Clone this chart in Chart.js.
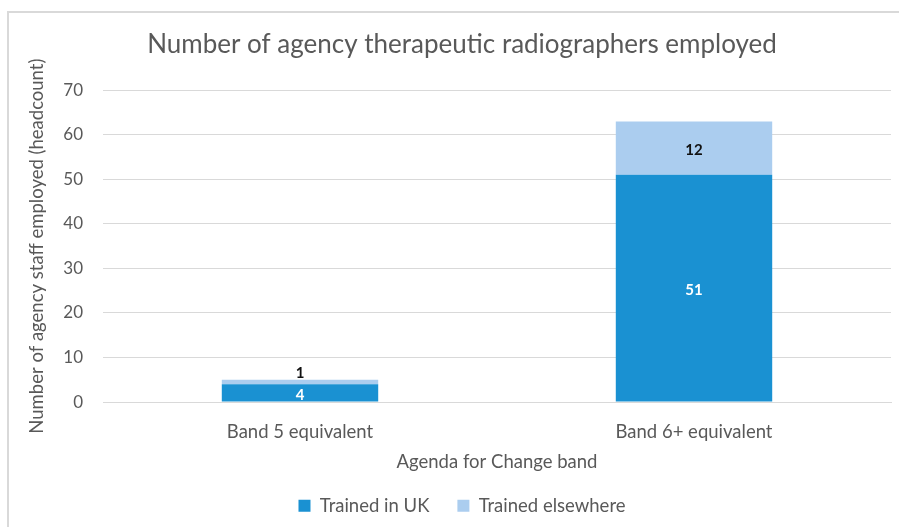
<!DOCTYPE html>
<html>
<head>
<meta charset="utf-8">
<script src="https://cdn.jsdelivr.net/npm/chart.js@4"></script>
<style>
  html, body { margin: 0; padding: 0; background: #ffffff; }
  #wrap { width: 899px; height: 527px; position: relative; }
</style>
</head>
<body>
<div id="wrap"><canvas id="chart" width="899" height="527"></canvas></div>
<script>
// Headcount of agency therapeutic radiographers by Agenda for Change band
const bands = ['Band 5 equivalent', 'Band 6+ equivalent'];
const trainedUK = [4, 51];
const trainedElsewhere = [1, 12];
const seriesNames = ['Trained in UK', 'Trained elsewhere'];
const seriesColors = ['#1a91d2', '#abcdef'];
const valueLabelColors = ['#ffffff', '#111111'];
const yTicks = [0, 10, 20, 30, 40, 50, 60, 70];

const FONT = 'Lato, "Open Sans", sans-serif';
const GREY = '#595959';

// Light frame around the chart (left and top edges)
const framePlugin = {
  id: 'frame',
  beforeDraw(chart) {
    const ctx = chart.ctx;
    ctx.save();
    ctx.fillStyle = '#ffffff';
    ctx.fillRect(0, 0, chart.width, chart.height);
    ctx.strokeStyle = '#d9d9d9';
    ctx.lineWidth = 2;
    ctx.beginPath();
    ctx.moveTo(8, chart.height);
    ctx.lineTo(8, 12);
    ctx.lineTo(chart.width, 12);
    ctx.stroke();
    ctx.restore();
  }
};

// Value labels centred in each stacked segment; thin segments get their label above
const valueLabelPlugin = {
  id: 'valueLabels',
  afterDatasetsDraw(chart) {
    const ctx = chart.ctx;
    ctx.save();
    ctx.font = 'bold 15px ' + FONT;
    ctx.textAlign = 'center';
    chart.data.datasets.forEach((ds, di) => {
      const meta = chart.getDatasetMeta(di);
      meta.data.forEach((bar, i) => {
        const p = bar.getProps(['x', 'y', 'base'], true);
        const h = Math.abs(p.base - p.y);
        ctx.fillStyle = valueLabelColors[di];
        if (h < 14) {
          ctx.textBaseline = 'bottom';
          ctx.fillText(String(ds.data[i]), p.x, Math.min(p.y, p.base) + 1);
        } else {
          ctx.textBaseline = 'middle';
          ctx.fillText(String(ds.data[i]), p.x, (p.y + p.base) / 2 + 2);
        }
      });
    });
    ctx.restore();
  }
};

new Chart(document.getElementById('chart'), {
  type: 'bar',
  data: {
    labels: bands,
    datasets: [
      { label: seriesNames[0], data: trainedUK, backgroundColor: seriesColors[0], borderWidth: 0 },
      { label: seriesNames[1], data: trainedElsewhere, backgroundColor: seriesColors[1], borderWidth: 0 }
    ]
  },
  options: {
    responsive: false,
    animation: false,
    devicePixelRatio: 1,
    categoryPercentage: 1,
    barPercentage: 0.397,
    layout: { padding: { left: 33, right: 8, top: 0, bottom: 2 } },
    plugins: {
      title: {
        display: true,
        text: 'Number of agency therapeutic radiographers employed',
        color: GREY,
        font: { family: FONT, size: 26, weight: 'normal' },
        padding: { top: 29, bottom: 30 }
      },
      legend: {
        position: 'bottom',
        labels: {
          color: GREY,
          font: { family: FONT, size: 18.5 },
          boxWidth: 12,
          boxHeight: 12,
          padding: 28
        }
      },
      tooltip: { enabled: false }
    },
    scales: {
      x: {
        stacked: true,
        grid: { display: false, drawTicks: false },
        border: { display: true, color: '#d9d9d9', width: 1 },
        ticks: { color: GREY, font: { family: FONT, size: 18.5 }, padding: 19 },
        title: {
          display: true,
          text: 'Agenda for Change band',
          color: GREY,
          font: { family: FONT, size: 18.5 },
          padding: { top: -11, bottom: -5 }
        }
      },
      y: {
        stacked: true,
        min: 0,
        max: 70,
        afterBuildTicks(scale) { scale.ticks = yTicks.map(v => ({ value: v })); },
        afterFit(scale) { scale.width = 70; },
        grid: { color: '#d9d9d9', lineWidth: 1, drawTicks: false },
        border: { display: false },
        ticks: { color: GREY, font: { family: FONT, size: 17 }, padding: 20 },
        title: {
          display: true,
          text: 'Number of agency staff employed (headcount)',
          color: GREY,
          font: { family: FONT, size: 18.5 },
          padding: { top: -7, bottom: 0 }
        }
      }
    }
  },
  plugins: [framePlugin, valueLabelPlugin]
});
</script>
</body>
</html>
